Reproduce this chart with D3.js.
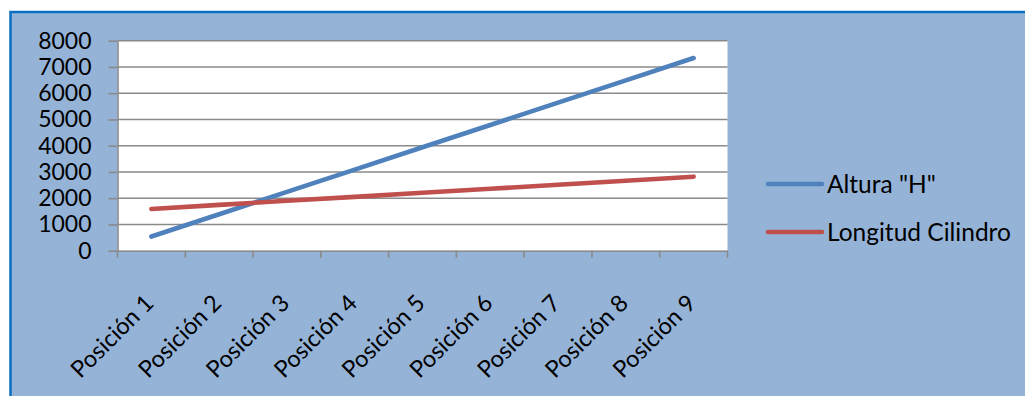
<!DOCTYPE html>
<html>
<head>
<meta charset="utf-8">
<script src="https://cdn.jsdelivr.net/npm/d3@7/dist/d3.min.js"></script>
<style>
  html, body { margin: 0; padding: 0; background: #ffffff; }
  svg { display: block; }
  text { font-family: "Lato", "Open Sans", sans-serif; fill: #000; }
</style>
</head>
<body>
<svg id="chart" width="1025" height="396"></svg>
<script>
// Categories and series
const categories = ["Posición 1", "Posición 2", "Posición 3", "Posición 4", "Posición 5",
                    "Posición 6", "Posición 7", "Posición 8", "Posición 9"];
const alturaH = [540, 1390, 2240, 3090, 3940, 4790, 5640, 6490, 7340];
const longitudCilindro = [1590, 1745, 1900, 2050, 2205, 2360, 2510, 2665, 2820];
const yTicks = [0, 1000, 2000, 3000, 4000, 5000, 6000, 7000, 8000];
const seriesNames = ['Altura "H"', "Longitud Cilindro"];
const seriesColors = ["#4F81BD", "#C0504D"];

const svg = d3.select("#chart");

// Chart area background with blue frame
svg.append("rect")
  .attr("x", 10.5).attr("y", 12)
  .attr("width", 1040).attr("height", 400)
  .attr("fill", "#95B3D7")
  .attr("stroke", "#0A6FC2").attr("stroke-width", 2.5);

const plot = { left: 117.5, right: 727.5, top: 40.7, bottom: 250.7 };

const x = d3.scaleBand().domain(categories).range([plot.left, plot.right]).padding(0);
const y = d3.scaleLinear().domain([0, 8000]).range([plot.bottom, plot.top]);

// Plot area
svg.append("rect")
  .attr("x", plot.left).attr("y", plot.top)
  .attr("width", plot.right - plot.left).attr("height", plot.bottom - plot.top)
  .attr("fill", "#ffffff");

// Horizontal gridlines
svg.append("g").selectAll("line").data(yTicks.filter(d => d > 0)).join("line")
  .attr("x1", plot.left).attr("x2", plot.right)
  .attr("y1", d => y(d)).attr("y2", d => y(d))
  .attr("stroke", "#8a8a8a").attr("stroke-width", 1.6);

// Y axis
const yAxis = svg.append("g")
  .attr("transform", `translate(${plot.left},0)`)
  .call(d3.axisLeft(y).tickValues(yTicks).tickFormat(d3.format("d"))
    .tickSize(9).tickPadding(17).tickSizeOuter(0));
yAxis.select(".domain").attr("stroke", "#8a8a8a").attr("stroke-width", 1.6);
yAxis.selectAll(".tick line").attr("stroke", "#8a8a8a").attr("stroke-width", 1.6);
yAxis.selectAll(".tick text")
  .style("font-family", "Lato, 'Open Sans', sans-serif")
  .attr("font-size", 23).attr("fill", "#000");

// X axis with ticks on category boundaries
const xAxis = svg.append("g")
  .attr("transform", `translate(0,${plot.bottom})`)
  .call(d3.axisBottom(x).tickSize(0).tickFormat(""));
xAxis.select(".domain").attr("stroke", "#8a8a8a").attr("stroke-width", 1.6);
xAxis.selectAll(".tick").remove();
const boundaries = categories.map(c => x(c)).concat([x(categories[categories.length - 1]) + x.bandwidth()]);
xAxis.selectAll(".bnd").data(boundaries).join("line")
  .attr("class", "bnd")
  .attr("x1", d => d).attr("x2", d => d)
  .attr("y1", 0).attr("y2", 7)
  .attr("stroke", "#8a8a8a").attr("stroke-width", 1.6);

// Rotated category labels
svg.append("g").selectAll("text").data(categories).join("text")
  .attr("transform", c => `translate(${x(c) + x.bandwidth() / 2 - 2},${plot.bottom + 48}) rotate(-45)`)
  .attr("text-anchor", "end")
  .attr("dy", "0.35em")
  .attr("font-size", 23.5)
  .text(c => c);

// Series lines
const line = d3.line()
  .x((d, i) => x(categories[i]) + x.bandwidth() / 2)
  .y(d => y(d));

[alturaH, longitudCilindro].forEach((vals, k) => {
  svg.append("path")
    .datum(vals)
    .attr("d", line)
    .attr("fill", "none")
    .attr("stroke", seriesColors[k])
    .attr("stroke-width", 4.6)
    .attr("stroke-linecap", "round")
    .attr("stroke-linejoin", "round");
});

// Legend
const legend = svg.append("g");
const legendY = [184, 232];
seriesNames.forEach((name, k) => {
  legend.append("line")
    .attr("x1", 768).attr("x2", 822)
    .attr("y1", legendY[k]).attr("y2", legendY[k])
    .attr("stroke", seriesColors[k]).attr("stroke-width", 4.6)
    .attr("stroke-linecap", "round");
  legend.append("text")
    .attr("x", 827).attr("y", legendY[k])
    .attr("dy", "0.35em")
    .attr("font-size", 24.5)
    .text(name);
});
</script>
</body>
</html>
